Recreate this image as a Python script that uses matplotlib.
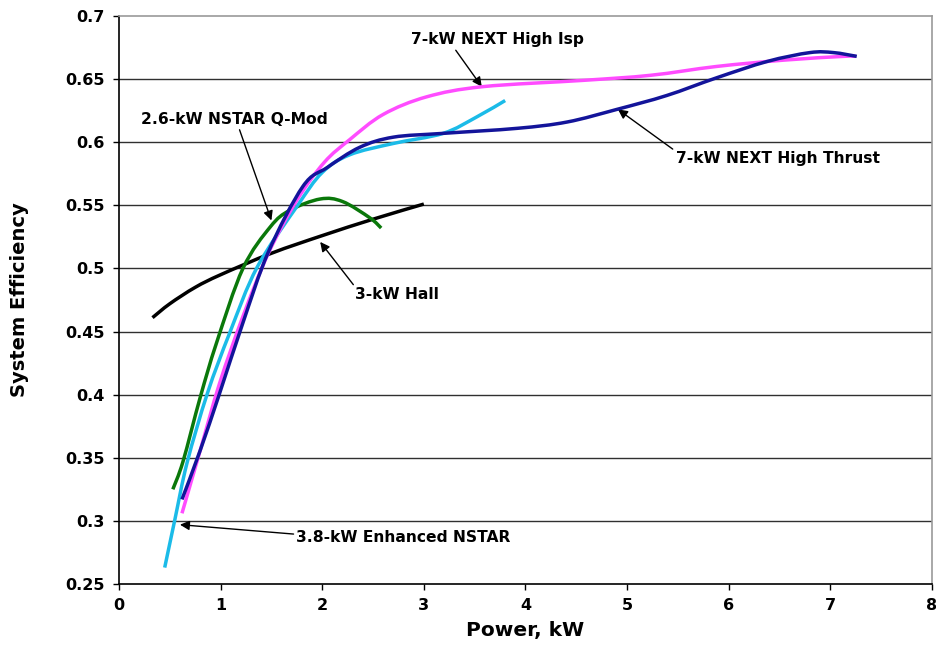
import matplotlib
matplotlib.use("Agg")
import matplotlib.pyplot as plt
from matplotlib.path import Path
from matplotlib.patches import PathPatch

hall_x = [0.33, 0.5, 0.75, 1.0, 1.5, 2.0, 2.5, 3.0]
hall_y = [0.461, 0.472, 0.485, 0.495, 0.512, 0.526, 0.539, 0.551]

qmod_x = [0.53, 0.63, 0.80, 0.96, 1.22, 1.49, 1.68, 1.98, 2.2, 2.47, 2.58]
qmod_y = [0.325, 0.347, 0.398, 0.441, 0.50, 0.533, 0.546, 0.555, 0.553, 0.54, 0.532]

enh_x = [0.45, 0.55, 0.67, 0.87, 1.09, 1.36, 1.75, 2.0, 2.27, 2.70, 3.19, 3.52, 3.80]
enh_y = [0.263, 0.301, 0.346, 0.401, 0.449, 0.501, 0.549, 0.576, 0.590, 0.599, 0.607, 0.620, 0.633]

isp_x = [0.62, 0.80, 0.99, 1.22, 1.47, 1.75, 2.02, 2.27, 2.60, 3.03, 3.58, 4.57, 5.23, 5.88, 6.54, 7.13, 7.25]
isp_y = [0.306, 0.356, 0.409, 0.462, 0.512, 0.554, 0.584, 0.602, 0.622, 0.636, 0.644, 0.649, 0.653, 0.660, 0.665, 0.668, 0.668]

thr_x = [0.62, 0.80, 0.99, 1.22, 1.47, 1.81, 2.05, 2.37, 2.70, 3.19, 3.92, 4.41, 4.90, 5.39, 5.88, 6.38, 6.80, 7.03, 7.26]
thr_y = [0.317, 0.356, 0.401, 0.457, 0.513, 0.565, 0.580, 0.596, 0.604, 0.607, 0.611, 0.616, 0.626, 0.637, 0.651, 0.664, 0.671, 0.671, 0.668]

x_ticks = [0, 1, 2, 3, 4, 5, 6, 7, 8]
y_ticks = [0.25, 0.3, 0.35, 0.4, 0.45, 0.5, 0.55, 0.6, 0.65, 0.7]
y_labels = ["0.25", "0.3", "0.35", "0.4", "0.45", "0.5", "0.55", "0.6", "0.65", "0.7"]

plt.rcParams['font.family'] = ['DejaVu Sans']
plt.rcParams['font.weight'] = 'bold'

fig = plt.figure(figsize=(9.36, 6.52), dpi=100)
ax = fig.add_axes([0.1271, 0.1043, 0.8686, 0.8712])
ax.set_xlim(0, 8)
ax.set_ylim(0.25, 0.7)
ax.set_xticks(x_ticks)
ax.set_yticks(y_ticks)
ax.set_yticklabels(y_labels)
for yv in y_ticks[1:-1]:
    ax.axhline(yv, color='#303030', lw=1.0, zorder=1)


def smooth_line(ax, xs, ys, color, lw, zorder):
    # Excel-style smoothed line: cubic Bezier segments through the points
    # (control points computed in display space for even tangents)
    pts = ax.transData.transform(list(zip(xs, ys)))
    n = len(pts)
    verts = [tuple(pts[0])]
    codes = [Path.MOVETO]
    for i in range(n - 1):
        p0 = pts[i - 1] if i > 0 else pts[i]
        p1 = pts[i]
        p2 = pts[i + 1]
        p3 = pts[i + 2] if i + 2 < n else pts[i + 1]
        c1 = p1 + (p2 - p0) / 6.0
        c2 = p2 - (p3 - p1) / 6.0
        verts += [tuple(c1), tuple(c2), tuple(p2)]
        codes += [Path.CURVE4] * 3
    inv = ax.transData.inverted()
    verts = inv.transform(verts)
    patch = PathPatch(Path(verts, codes), fill=False, edgecolor=color, lw=lw,
                      zorder=zorder, capstyle='butt', joinstyle='round',
                      transform=ax.transData)
    ax.add_patch(patch)


lw = 2.5
smooth_line(ax, hall_x, hall_y, 'black', lw, 3)
smooth_line(ax, qmod_x, qmod_y, '#0a780a', lw, 3)
smooth_line(ax, enh_x, enh_y, '#1bbbe8', lw, 3)
smooth_line(ax, isp_x, isp_y, '#ff4cff', lw, 4)
smooth_line(ax, thr_x, thr_y, '#13149a', lw, 5)

for s in ['top', 'right']:
    ax.spines[s].set_color('#999999')
    ax.spines[s].set_linewidth(1.2)
for s in ['left', 'bottom']:
    ax.spines[s].set_color('black')
    ax.spines[s].set_linewidth(1.2)
ax.tick_params(direction='out', length=4, width=1, labelsize=11.5, pad=6)
for lab in ax.get_xticklabels() + ax.get_yticklabels():
    lab.set_fontweight('bold')

ax.set_xlabel('Power, kW', fontsize=14.5, fontweight='bold', labelpad=6)
ax.set_ylabel('System Efficiency', fontsize=14, fontweight='bold', labelpad=26)

ap = dict(arrowstyle='-|>', color='black', lw=1.0, mutation_scale=14, shrinkA=0, shrinkB=0)
fs = 11.2
ax.annotate('7-kW NEXT High Isp', xy=(3.57, 0.644), xytext=(3.72, 0.681),
            fontsize=fs, fontweight='bold', ha='center', va='center', arrowprops=dict(ap, relpos=(0.25, 0.0)))
ax.annotate('2.6-kW NSTAR Q-Mod', xy=(1.50, 0.538), xytext=(1.14, 0.618),
            fontsize=fs, fontweight='bold', ha='center', va='center', arrowprops=dict(ap, relpos=(0.52, 0.0)))
ax.annotate('3-kW Hall', xy=(1.98, 0.521), xytext=(2.74, 0.479),
            fontsize=fs, fontweight='bold', ha='center', va='center', arrowprops=dict(ap, relpos=(0.0, 1.0)))
ax.annotate('3.8-kW Enhanced NSTAR', xy=(0.60, 0.297), xytext=(2.80, 0.287),
            fontsize=fs, fontweight='bold', ha='center', va='center', arrowprops=dict(ap, relpos=(0.0, 0.7)))
ax.annotate('7-kW NEXT High Thrust', xy=(4.91, 0.626), xytext=(6.48, 0.587),
            fontsize=fs, fontweight='bold', ha='center', va='center', arrowprops=dict(ap, relpos=(0.0, 1.0)))

fig.savefig('out.png', dpi=100)
